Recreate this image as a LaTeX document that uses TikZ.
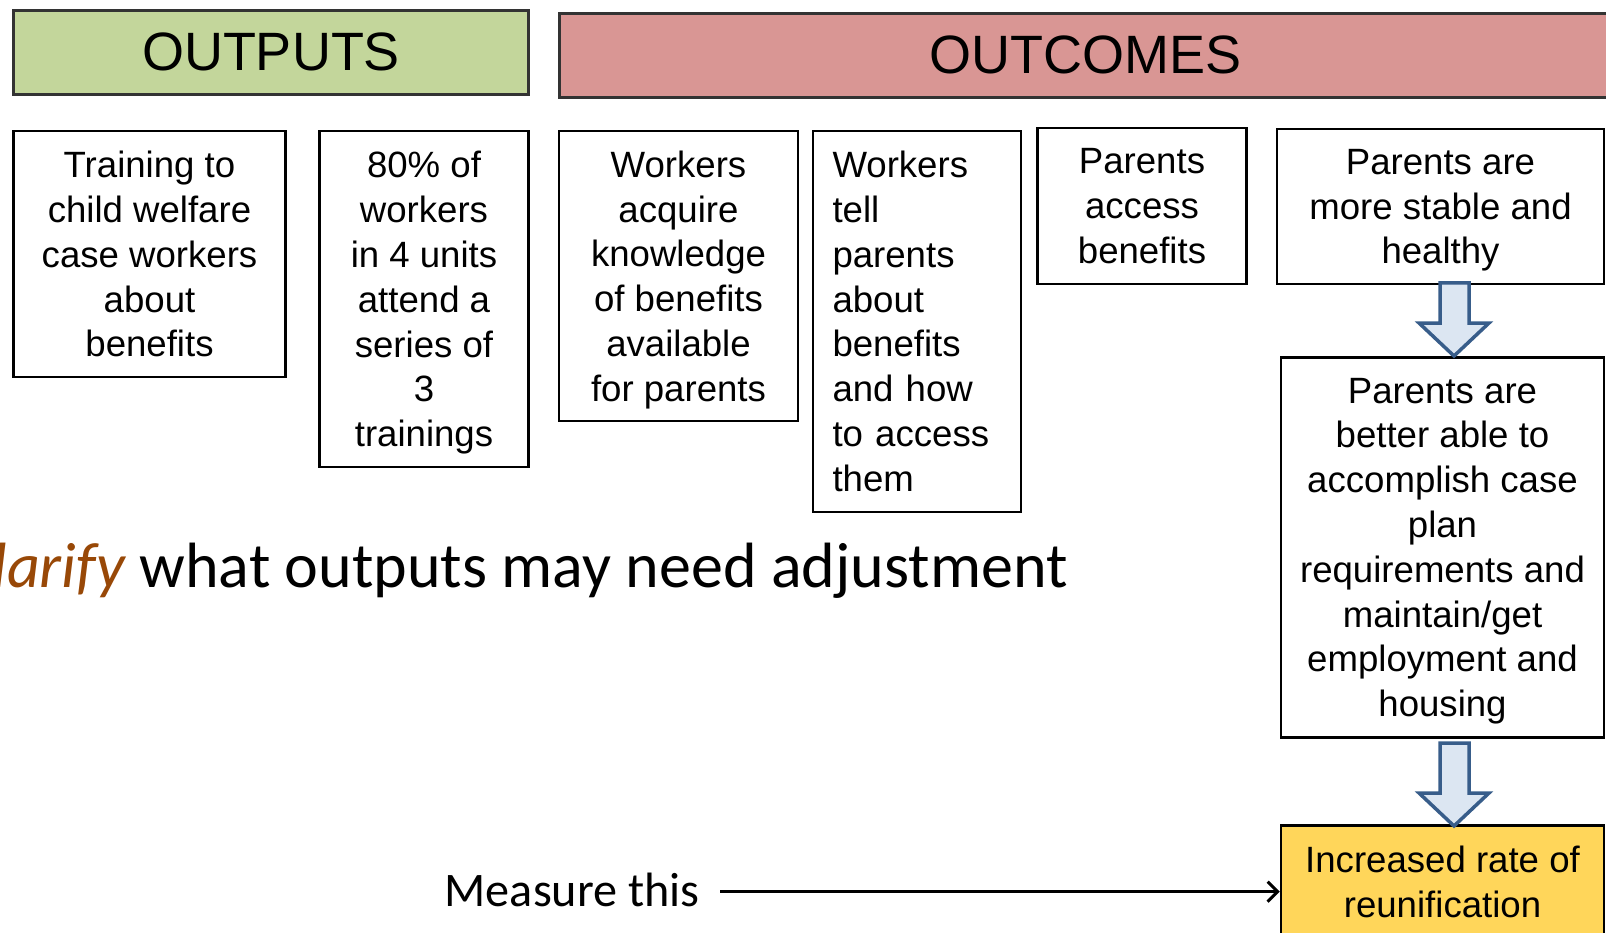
\documentclass[tikz,border=0pt]{standalone}
\usepackage{fontspec}
\setmainfont{Liberation Sans}
\newfontfamily\calfont{Carlito}
\usetikzlibrary{arrows.meta}
\definecolor{outgreen}{RGB}{195,214,155}
\definecolor{outred}{RGB}{217,150,148}
\definecolor{gold}{RGB}{255,214,90}
\definecolor{arrfill}{RGB}{220,230,242}
\definecolor{arrline}{RGB}{56,93,138}
\definecolor{brownish}{RGB}{152,72,7}
\newcommand\boxfont{\fontsize{36.6}{44.8}\selectfont}
\newcommand\titlefont{\fontsize{54}{60}\selectfont}
\begin{document}
\begin{tikzpicture}[x=1pt,y=-1pt,
  boxbase/.style={draw=black, line width=2.5pt, inner sep=0pt, align=center, font=\boxfont},
  box/.style={boxbase, text depth=0pt},
  titlebox/.style={draw=black!80, line width=3pt, inner sep=0pt, font=\titlefont},
  blockarrow/.style={draw=arrline, fill=arrfill, line width=3.5pt, line join=miter}]
\useasboundingbox (0,0) rectangle (1606,933);
\clip (0,0) rectangle (1606,933);
% titles
\node[titlebox, fill=outgreen, minimum width=515pt, minimum height=84pt] (outputs) at (271,52.2) {OUTPUTS};
\node[titlebox, fill=outred, minimum width=1053pt, minimum height=84pt] (outcomes) at (1085.5,55.3) {OUTCOMES};
% boxes
\node[box, minimum width=272.4pt, minimum height=246pt] (b1) at (149.5,254) {Training to\\child welfare\\case workers\\about\\benefits};
\node[box, minimum width=209pt, minimum height=336pt] (b2) at (424,299) {80\% of\\workers\\in 4 units\\attend a\\series of\\3\\trainings};
\node[box, minimum width=239pt, minimum height=290pt] (b3) at (678.5,276) {Workers\\acquire\\knowledge\\of benefits\\available\\for parents};
\node[boxbase, minimum width=208pt, minimum height=381pt, text width=169pt, align=left] (b4) at (917,321.5) {Workers\\tell\\parents\\about\\benefits\\and how\\to access\\them};
\node[box, minimum width=209pt, minimum height=155.7pt] (b5) at (1142,206) {Parents\\access\\benefits};
\node[box, minimum width=327pt, minimum height=155pt] (b6) at (1440.5,206.5) {Parents are\\more stable and\\healthy};
\node[box, minimum width=323pt, minimum height=380pt] (b7) at (1442.5,547.4) {Parents are\\better able to\\accomplish case\\plan\\requirements and\\maintain/get\\employment and\\housing};
\node[box, fill=gold, minimum width=323pt, minimum height=113pt] (b8) at (1442.5,882) {Increased rate of\\reunification};
% block arrows
\draw[blockarrow] (1440,283) -- (1469,283) -- (1469,323) -- (1489,323) -- (1454,356) -- (1419,323) -- (1440,323) -- cycle;
\draw[blockarrow] (1440,743) -- (1469,743) -- (1469,793) -- (1489,793) -- (1454,826) -- (1419,793) -- (1440,793) -- cycle;
% texts
\node[anchor=base east, inner sep=0pt, font=\calfont\fontsize{64}{72}\selectfont] (clarify) at (1068,587.5) {{\color{brownish}\itshape larify} what outputs may need adjustment};
\node[anchor=base west, inner sep=0pt, font=\calfont\fontsize{48.2}{54}\selectfont] (measure) at (444.5,906.7) {Measure this};
\coordinate (ms) at (720,891.7);
\draw[line width=3pt, -{Straight Barb[length=10pt,width=20pt]}] (ms) -- (ms -| b8.west);
\end{tikzpicture}
\end{document}
